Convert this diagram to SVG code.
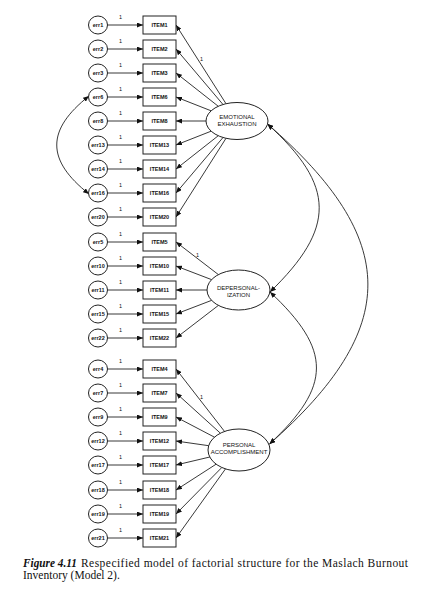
<svg xmlns="http://www.w3.org/2000/svg" width="429" height="609" viewBox="0 0 429 609">
<style>
.bg{fill:#fff}
.box{fill:#fff;stroke:#222;stroke-width:1}
.err{fill:#fff;stroke:#222;stroke-width:1}
.lat{fill:#fff;stroke:#222;stroke-width:1}
.t{font-family:"Liberation Sans",Arial,sans-serif;font-size:5.5px;font-weight:bold;fill:#111;text-anchor:middle}
.lt{font-family:"Liberation Sans",Arial,sans-serif;font-size:6px;fill:#111;text-anchor:middle}
.one{font-family:"Liberation Sans",Arial,sans-serif;font-size:5.5px;fill:#111;text-anchor:middle}
.c{fill:none;stroke:#222;stroke-width:0.9;marker-end:url(#ah)}
.cv{fill:none;stroke:#222;stroke-width:0.9;marker-start:url(#ah);marker-end:url(#ah)}
.cap{font-family:"Liberation Serif","Times New Roman",serif;font-size:11.5px;fill:#111}
</style>
<defs>
<marker id="ah" viewBox="0 0 6 5" refX="6" refY="2.5" markerWidth="6" markerHeight="5" markerUnits="userSpaceOnUse" orient="auto-start-reverse"><path d="M0,0L6,2.5L0,5z" fill="#111"/></marker>
</defs>
<rect class="bg" x="0" y="0" width="429" height="609"/>

<g id="connectors">
<line class="c" x1="107.5" y1="25" x2="143" y2="25"/>
<line class="c" x1="107.5" y1="49" x2="143" y2="49"/>
<line class="c" x1="107.5" y1="73" x2="143" y2="73"/>
<line class="c" x1="107.5" y1="97" x2="143" y2="97"/>
<line class="c" x1="107.5" y1="121" x2="143" y2="121"/>
<line class="c" x1="107.5" y1="145" x2="143" y2="145"/>
<line class="c" x1="107.5" y1="169" x2="143" y2="169"/>
<line class="c" x1="107.5" y1="193" x2="143" y2="193"/>
<line class="c" x1="107.5" y1="217" x2="143" y2="217"/>
<line class="c" x1="107.5" y1="242" x2="143" y2="242"/>
<line class="c" x1="107.5" y1="266" x2="143" y2="266"/>
<line class="c" x1="107.5" y1="290" x2="143" y2="290"/>
<line class="c" x1="107.5" y1="314" x2="143" y2="314"/>
<line class="c" x1="107.5" y1="338" x2="143" y2="338"/>
<line class="c" x1="107.5" y1="369" x2="143" y2="369"/>
<line class="c" x1="107.5" y1="393" x2="143" y2="393"/>
<line class="c" x1="107.5" y1="417" x2="143" y2="417"/>
<line class="c" x1="107.5" y1="441" x2="143" y2="441"/>
<line class="c" x1="107.5" y1="465" x2="143" y2="465"/>
<line class="c" x1="107.5" y1="490" x2="143" y2="490"/>
<line class="c" x1="107.5" y1="514" x2="143" y2="514"/>
<line class="c" x1="107.5" y1="538" x2="143" y2="538"/>
<line class="c" x1="226" y1="103.7" x2="176" y2="25"/>
<line class="c" x1="223" y1="104.5" x2="176" y2="49"/>
<line class="c" x1="218.3" y1="106.3" x2="176" y2="73"/>
<line class="c" x1="211.1" y1="110.8" x2="176" y2="97"/>
<line class="c" x1="206" y1="121" x2="176" y2="121"/>
<line class="c" x1="211.1" y1="131.2" x2="176" y2="145"/>
<line class="c" x1="218.3" y1="135.7" x2="176" y2="169"/>
<line class="c" x1="223" y1="137.5" x2="176" y2="193"/>
<line class="c" x1="226" y1="138.3" x2="176" y2="217"/>
<line class="c" x1="218.4" y1="274.6" x2="176" y2="242"/>
<line class="c" x1="211.5" y1="279.6" x2="176" y2="266"/>
<line class="c" x1="207" y1="290" x2="176" y2="290"/>
<line class="c" x1="211.5" y1="300.4" x2="176" y2="314"/>
<line class="c" x1="218.4" y1="305.4" x2="176" y2="338"/>
<line class="c" x1="224.5" y1="431.4" x2="176" y2="369"/>
<line class="c" x1="220.4" y1="433.2" x2="176" y2="393"/>
<line class="c" x1="214.5" y1="437.2" x2="176" y2="417"/>
<line class="c" x1="208.7" y1="445.7" x2="176" y2="441"/>
<line class="c" x1="209.8" y1="457" x2="176" y2="465"/>
<line class="c" x1="216.1" y1="464.2" x2="176" y2="490"/>
<line class="c" x1="221.8" y1="467.5" x2="176" y2="514"/>
<line class="c" x1="225.5" y1="468.9" x2="176" y2="538"/>
<path class="cv" d="M267.5,124 C336,186 336,228 270,292"/>
<path class="cv" d="M267.5,124 C401,240 401,328 269.5,444"/>
<path class="cv" d="M270,292 C332,350 332,386 269.5,444"/>
<path class="cv" d="M89,96 C46,130 46,160 89,194"/>
<text class="one" x="120.5" y="19">1</text>
<text class="one" x="120.5" y="43">1</text>
<text class="one" x="120.5" y="67">1</text>
<text class="one" x="120.5" y="91">1</text>
<text class="one" x="120.5" y="115">1</text>
<text class="one" x="120.5" y="139">1</text>
<text class="one" x="120.5" y="163">1</text>
<text class="one" x="120.5" y="187">1</text>
<text class="one" x="120.5" y="211">1</text>
<text class="one" x="120.5" y="236">1</text>
<text class="one" x="120.5" y="260">1</text>
<text class="one" x="120.5" y="284">1</text>
<text class="one" x="120.5" y="308">1</text>
<text class="one" x="120.5" y="332">1</text>
<text class="one" x="120.5" y="363">1</text>
<text class="one" x="120.5" y="387">1</text>
<text class="one" x="120.5" y="411">1</text>
<text class="one" x="120.5" y="435">1</text>
<text class="one" x="120.5" y="459">1</text>
<text class="one" x="120.5" y="484">1</text>
<text class="one" x="120.5" y="508">1</text>
<text class="one" x="120.5" y="532">1</text>
<text class="one" x="201.5" y="60.5">1</text>
<text class="one" x="197.5" y="257">1</text>
<text class="one" x="201.5" y="398.5">1</text>
</g>

<g id="err1"><ellipse class="err" cx="98" cy="25" rx="9.5" ry="9"/><text class="t" x="98" y="27">err1</text></g>
<g id="err2"><ellipse class="err" cx="98" cy="49" rx="9.5" ry="9"/><text class="t" x="98" y="51">err2</text></g>
<g id="err3"><ellipse class="err" cx="98" cy="73" rx="9.5" ry="9"/><text class="t" x="98" y="75">err3</text></g>
<g id="err6"><ellipse class="err" cx="98" cy="97" rx="9.5" ry="9"/><text class="t" x="98" y="99">err6</text></g>
<g id="err8"><ellipse class="err" cx="98" cy="121" rx="9.5" ry="9"/><text class="t" x="98" y="123">err8</text></g>
<g id="err13"><ellipse class="err" cx="98" cy="145" rx="9.5" ry="9"/><text class="t" x="98" y="147">err13</text></g>
<g id="err14"><ellipse class="err" cx="98" cy="169" rx="9.5" ry="9"/><text class="t" x="98" y="171">err14</text></g>
<g id="err16"><ellipse class="err" cx="98" cy="193" rx="9.5" ry="9"/><text class="t" x="98" y="195">err16</text></g>
<g id="err20"><ellipse class="err" cx="98" cy="217" rx="9.5" ry="9"/><text class="t" x="98" y="219">err20</text></g>
<g id="err5"><ellipse class="err" cx="98" cy="242" rx="9.5" ry="9"/><text class="t" x="98" y="244">err5</text></g>
<g id="err10"><ellipse class="err" cx="98" cy="266" rx="9.5" ry="9"/><text class="t" x="98" y="268">err10</text></g>
<g id="err11"><ellipse class="err" cx="98" cy="290" rx="9.5" ry="9"/><text class="t" x="98" y="292">err11</text></g>
<g id="err15"><ellipse class="err" cx="98" cy="314" rx="9.5" ry="9"/><text class="t" x="98" y="316">err15</text></g>
<g id="err22"><ellipse class="err" cx="98" cy="338" rx="9.5" ry="9"/><text class="t" x="98" y="340">err22</text></g>
<g id="err4"><ellipse class="err" cx="98" cy="369" rx="9.5" ry="9"/><text class="t" x="98" y="371">err4</text></g>
<g id="err7"><ellipse class="err" cx="98" cy="393" rx="9.5" ry="9"/><text class="t" x="98" y="395">err7</text></g>
<g id="err9"><ellipse class="err" cx="98" cy="417" rx="9.5" ry="9"/><text class="t" x="98" y="419">err9</text></g>
<g id="err12"><ellipse class="err" cx="98" cy="441" rx="9.5" ry="9"/><text class="t" x="98" y="443">err12</text></g>
<g id="err17"><ellipse class="err" cx="98" cy="465" rx="9.5" ry="9"/><text class="t" x="98" y="467">err17</text></g>
<g id="err18"><ellipse class="err" cx="98" cy="490" rx="9.5" ry="9"/><text class="t" x="98" y="492">err18</text></g>
<g id="err19"><ellipse class="err" cx="98" cy="514" rx="9.5" ry="9"/><text class="t" x="98" y="516">err19</text></g>
<g id="err21"><ellipse class="err" cx="98" cy="538" rx="9.5" ry="9"/><text class="t" x="98" y="540">err21</text></g>

<g id="item1"><rect class="box" x="143" y="16" width="33" height="18"/><text class="t" x="159.5" y="27">ITEM1</text></g>
<g id="item2"><rect class="box" x="143" y="40" width="33" height="18"/><text class="t" x="159.5" y="51">ITEM2</text></g>
<g id="item3"><rect class="box" x="143" y="64" width="33" height="18"/><text class="t" x="159.5" y="75">ITEM3</text></g>
<g id="item6"><rect class="box" x="143" y="88" width="33" height="18"/><text class="t" x="159.5" y="99">ITEM6</text></g>
<g id="item8"><rect class="box" x="143" y="112" width="33" height="18"/><text class="t" x="159.5" y="123">ITEM8</text></g>
<g id="item13"><rect class="box" x="143" y="136" width="33" height="18"/><text class="t" x="159.5" y="147">ITEM13</text></g>
<g id="item14"><rect class="box" x="143" y="160" width="33" height="18"/><text class="t" x="159.5" y="171">ITEM14</text></g>
<g id="item16"><rect class="box" x="143" y="184" width="33" height="18"/><text class="t" x="159.5" y="195">ITEM16</text></g>
<g id="item20"><rect class="box" x="143" y="208" width="33" height="18"/><text class="t" x="159.5" y="219">ITEM20</text></g>
<g id="item5"><rect class="box" x="143" y="233" width="33" height="18"/><text class="t" x="159.5" y="244">ITEM5</text></g>
<g id="item10"><rect class="box" x="143" y="257" width="33" height="18"/><text class="t" x="159.5" y="268">ITEM10</text></g>
<g id="item11"><rect class="box" x="143" y="281" width="33" height="18"/><text class="t" x="159.5" y="292">ITEM11</text></g>
<g id="item15"><rect class="box" x="143" y="305" width="33" height="18"/><text class="t" x="159.5" y="316">ITEM15</text></g>
<g id="item22"><rect class="box" x="143" y="329" width="33" height="18"/><text class="t" x="159.5" y="340">ITEM22</text></g>
<g id="item4"><rect class="box" x="143" y="360" width="33" height="18"/><text class="t" x="159.5" y="371">ITEM4</text></g>
<g id="item7"><rect class="box" x="143" y="384" width="33" height="18"/><text class="t" x="159.5" y="395">ITEM7</text></g>
<g id="item9"><rect class="box" x="143" y="408" width="33" height="18"/><text class="t" x="159.5" y="419">ITEM9</text></g>
<g id="item12"><rect class="box" x="143" y="432" width="33" height="18"/><text class="t" x="159.5" y="443">ITEM12</text></g>
<g id="item17"><rect class="box" x="143" y="456" width="33" height="18"/><text class="t" x="159.5" y="467">ITEM17</text></g>
<g id="item18"><rect class="box" x="143" y="481" width="33" height="18"/><text class="t" x="159.5" y="492">ITEM18</text></g>
<g id="item19"><rect class="box" x="143" y="505" width="33" height="18"/><text class="t" x="159.5" y="516">ITEM19</text></g>
<g id="item21"><rect class="box" x="143" y="529" width="33" height="18"/><text class="t" x="159.5" y="540">ITEM21</text></g>

<g id="emotional-exhaustion"><ellipse class="lat" cx="237" cy="121" rx="31" ry="18.5"/><text class="lt" x="237" y="118.5">EMOTIONAL</text><text class="lt" x="237" y="126">EXHAUSTION</text></g>
<g id="depersonalization"><ellipse class="lat" cx="238.5" cy="290" rx="31.5" ry="20"/><text class="lt" x="238.5" y="289.5">DEPERSONAL-</text><text class="lt" x="238.5" y="297">IZATION</text></g>
<g id="personal-accomplishment"><ellipse class="lat" cx="239" cy="450" rx="31" ry="21"/><text class="lt" x="239" y="446.5">PERSONAL</text><text class="lt" x="239" y="454">ACCOMPLISHMENT</text></g>

<text class="cap" x="23" y="566.5" font-weight="bold" font-style="italic" textLength="54" lengthAdjust="spacingAndGlyphs">Figure 4.11</text>
<text class="cap" x="81" y="566.5" textLength="327" lengthAdjust="spacing">Respecified model of factorial structure for the Maslach Burnout</text>
<text class="cap" x="23" y="579">Inventory (Model 2).</text>
</svg>
